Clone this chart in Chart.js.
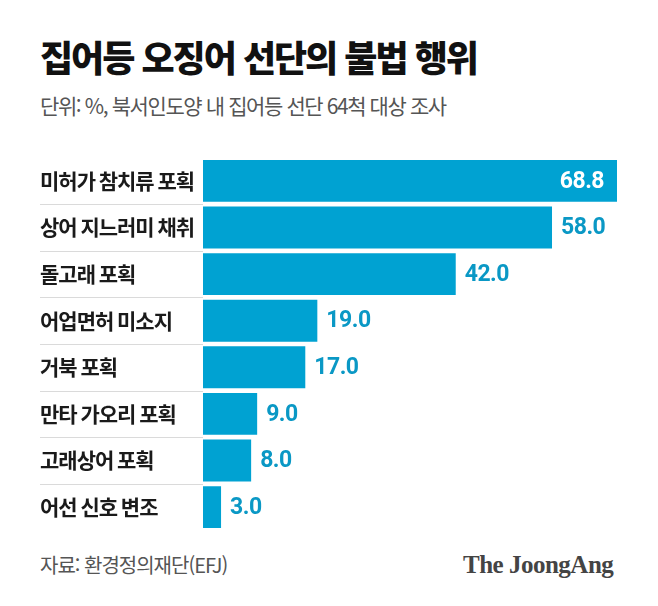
<!DOCTYPE html>
<html lang="ko">
<head>
<meta charset="utf-8">
<script src="https://cdn.jsdelivr.net/npm/chart.js@4.4.1/dist/chart.umd.min.js"></script>
<style>
  html, body { margin: 0; padding: 0; background: #fff; }
  body { width: 658px; height: 606px; position: relative; overflow: hidden; font-family: 'Noto Sans CJK KR', sans-serif; }
  h1 { position: absolute; left: 40px; top: 35px; margin: 0; font-size: 36px; font-weight: 900; letter-spacing: -2px; color: #111; line-height: 1.2; }
  .sub { position: absolute; left: 40px; top: 93px; font-size: 21px; color: #555; letter-spacing: -1.4px; line-height: 1.2; }
  #wrap { position: absolute; left: 40px; top: 145px; width: 618px; height: 398px; }
  .src { position: absolute; left: 40px; top: 553px; font-size: 20px; color: #555; letter-spacing: -1px; line-height: 1.2; }
  .logo { position: absolute; left: 463px; top: 551px; font-family: 'Liberation Serif', serif; font-weight: 700; font-size: 25px; color: #444; letter-spacing: -0.5px; }
</style>
</head>
<body>
<h1>집어등 오징어 선단의 불법 행위</h1>
<div class="sub">단위: %, 북서인도양 내 집어등 선단 64척 대상 조사</div>
<div id="wrap"><canvas id="c"></canvas></div>
<div class="src">자료: 환경정의재단(EFJ)</div>
<div class="logo">The JoongAng</div>
<script>
// 항목과 값 (%)
const categories = ['미허가 참치류 포획', '상어 지느러미 채취', '돌고래 포획', '어업면허 미소지', '거북 포획', '만타 가오리 포획', '고래상어 포획', '어선 신호 변조'];
const values = [68.8, 58.0, 42.0, 19.0, 17.0, 9.0, 8.0, 3.0];

const BAR = '#00a2d2';
const TXT = '#0a98c5';

// 행 구분선 (라벨 영역에만)
const separators = {
  id: 'separators',
  afterDraw(chart) {
    const { ctx, scales: { y }, chartArea } = chart;
    ctx.save();
    ctx.strokeStyle = '#dadada';
    ctx.lineWidth = 1;
    for (let i = 0; i < categories.length - 1; i++) {
      const yy = Math.round((y.getPixelForValue(i) + y.getPixelForValue(i + 1)) / 2) + 0.5;
      ctx.beginPath(); ctx.moveTo(0, yy); ctx.lineTo(chartArea.left, yy); ctx.stroke();
    }
    ctx.restore();
  }
};

// 값 라벨: 첫 막대는 안쪽(흰색), 나머지는 바깥
const valueLabels = {
  id: 'valueLabels',
  afterDatasetsDraw(chart) {
    const { ctx } = chart;
    const meta = chart.getDatasetMeta(0);
    ctx.save();
    ctx.font = '700 23px Roboto, sans-serif';
    ctx.letterSpacing = '-0.5px';
    ctx.textBaseline = 'middle';
    meta.data.forEach((bar, i) => {
      const txt = values[i].toFixed(1);
      if (i === 0) { ctx.fillStyle = '#fff'; ctx.textAlign = 'right'; ctx.fillText(txt, bar.x - 13, bar.y + 1); }
      else { ctx.fillStyle = TXT; ctx.textAlign = 'left'; ctx.fillText(txt, bar.x + 9, bar.y + 1); }
    });
    ctx.restore();
  }
};

const labelSpacing = { id: 'labelSpacing', beforeDraw(chart) { chart.ctx.letterSpacing = '-1px'; } };

new Chart(document.getElementById('c'), {
  type: 'bar',
  data: { labels: categories, datasets: [{ data: values, backgroundColor: BAR, borderWidth: 0, barPercentage: 0.9, categoryPercentage: 1 }] },
  options: {
    indexAxis: 'y', responsive: true, maintainAspectRatio: false, animation: false,
    layout: { padding: { top: 6, bottom: 6, left: 0, right: 41 } },
    plugins: { legend: { display: false }, tooltip: { enabled: false } },
    scales: {
      x: { display: false, min: 0, max: 68.8 },
      y: {
        grid: { display: false }, border: { display: false },
        ticks: { crossAlign: 'far', padding: 0, color: '#1a1a1a', font: { family: "'Noto Sans CJK KR', sans-serif", size: 21, weight: '600' } },
        afterFit(s) { s.width = 163; }
      }
    }
  },
  plugins: [labelSpacing, separators, valueLabels]
});
</script>
</body>
</html>
